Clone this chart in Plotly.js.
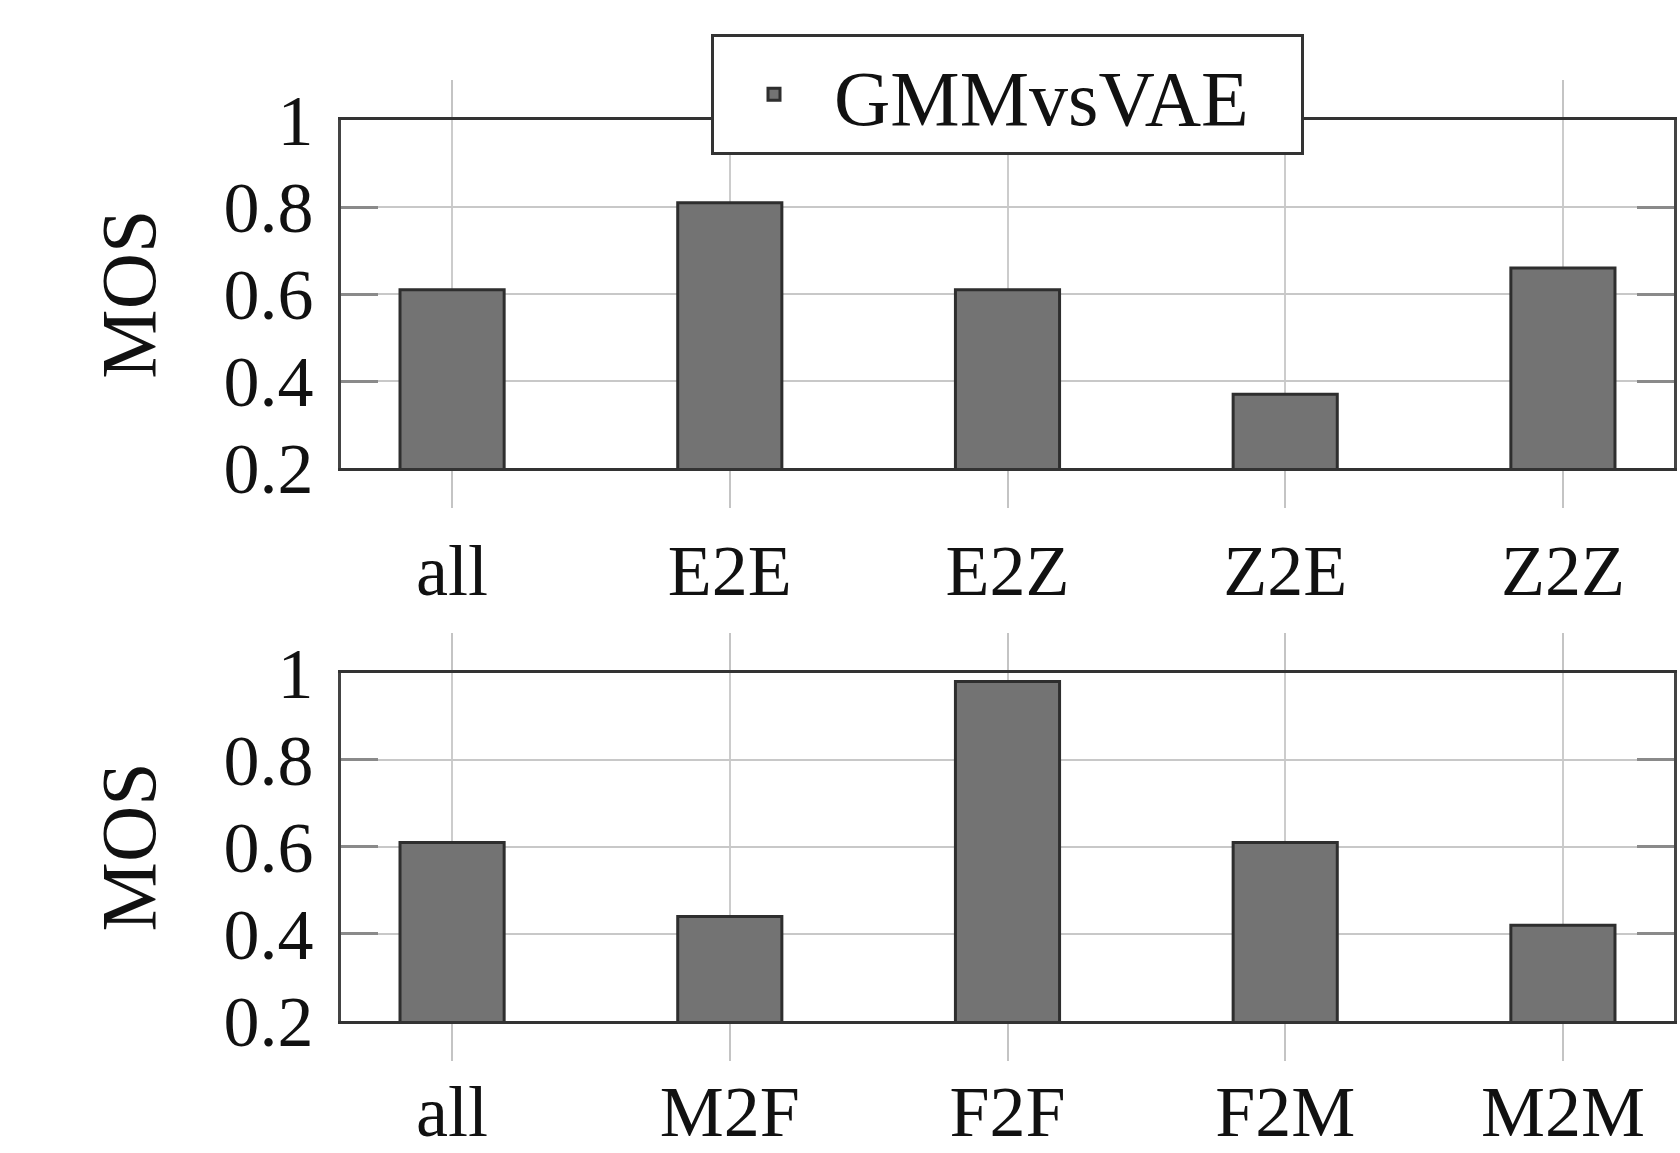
<!DOCTYPE html>
<html>
<head>
<meta charset="utf-8">
<script src="https://cdn.plot.ly/plotly-3.0.1.min.js"></script>
<style>html,body{margin:0;padding:0;background:#fff;}#chart{width:1680px;height:1153px;}</style>
</head>
<body>
<div id="chart"></div>
<script>
const seriesName = 'GMMvsVAE';
const catsTop = ['all', 'E2E', 'E2Z', 'Z2E', 'Z2Z'];
const valsTop = [0.61, 0.81, 0.61, 0.37, 0.66];
const catsBottom = ['all', 'M2F', 'F2F', 'F2M', 'M2M'];
const valsBottom = [0.61, 0.44, 0.98, 0.61, 0.42];
const yTickVals = [0.2, 0.4, 0.6, 0.8, 1];
const yTickText = ['0.2', '0.4', '0.6', '0.8', '1'];
const yLabel = 'MOS';

const FONT = 'Liberation Serif, Times New Roman, serif';
const FS = 72;
const barFill = '#737373';
const barLine = '#2e2e2e';

const traces = [
  {type: 'bar', x: catsTop, y: valsTop, name: seriesName, xaxis: 'x', yaxis: 'y',
   width: 0.375, marker: {color: barFill, line: {color: barLine, width: 3}}, showlegend: true},
  {type: 'bar', x: catsBottom, y: valsBottom, name: seriesName, xaxis: 'x2', yaxis: 'y2',
   width: 0.375, marker: {color: barFill, line: {color: barLine, width: 3}}, showlegend: false}
];

function xax(cats, anchor, standoff) {
  return {
    type: 'category', categoryarray: cats, range: [-0.4, 4.4], anchor: anchor,
    showgrid: true, gridcolor: '#cccccc', gridwidth: 2,
    ticks: 'outside', ticklen: 37, tickwidth: 2, tickcolor: '#c4c4c4',
    showline: true, linecolor: '#333333', linewidth: 3, mirror: 'ticks',
    tickfont: {family: FONT, size: FS, color: '#111'}, ticklabelstandoff: standoff,
    fixedrange: true, zeroline: false
  };
}
function yax(domain, anchor) {
  return {
    domain: domain, anchor: anchor, range: [0.2, 1],
    tickvals: yTickVals, ticktext: yTickText,
    showgrid: true, gridcolor: '#c8c8c8', gridwidth: 2,
    ticks: 'inside', ticklen: 37, tickwidth: 3, tickcolor: '#8a8a8a',
    showline: true, linecolor: '#444444', linewidth: 3, mirror: 'ticks',
    tickfont: {family: FONT, size: FS, color: '#111'}, ticklabelstandoff: 10,
    title: {text: yLabel, standoff: 43, font: {family: FONT, size: FS + 6, color: '#111'}},
    zeroline: false, fixedrange: true
  };
}

const layout = {
  width: 1680, height: 1153,
  margin: {l: 341, r: 6, t: 0, b: 0},
  paper_bgcolor: '#ffffff', plot_bgcolor: '#ffffff',
  font: {family: FONT, size: FS, color: '#111'},
  showlegend: true,
  legend: {
    x: 0.5, xanchor: 'center', y: 0.9705, yanchor: 'top',
    orientation: 'h', entrywidth: 462, entrywidthmode: 'pixels',
    bgcolor: '#ffffff', bordercolor: '#333333', borderwidth: 3,
    font: {family: FONT, size: 78, color: '#111'}, itemwidth: 110
  },
  bargap: 0,
  xaxis: xax(catsTop, 'y', 0),
  yaxis: yax([0.5939, 0.8959], 'x'),
  xaxis2: xax(catsBottom, 'y2', -11),
  yaxis2: yax([0.1145, 0.4165], 'x2')
};

Plotly.newPlot('chart', traces, layout, {displayModeBar: false, staticPlot: true});
</script>
</body>
</html>
